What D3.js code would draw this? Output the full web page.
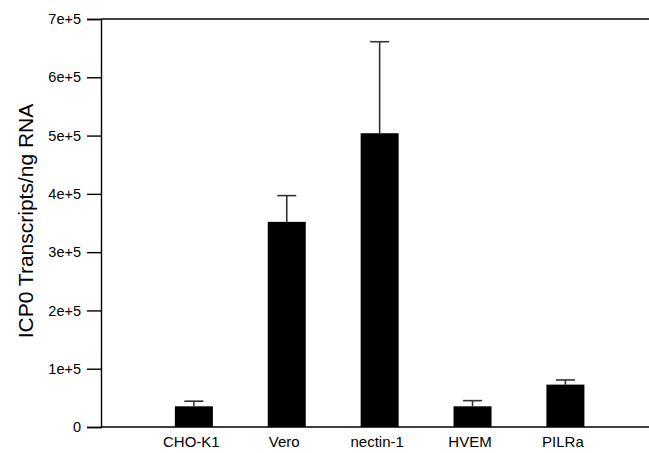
<!DOCTYPE html>
<html>
<head>
<meta charset="utf-8">
<script src="https://cdn.jsdelivr.net/npm/d3@7/dist/d3.min.js"></script>
<style>
  html, body { margin: 0; padding: 0; background: #fff; }
  svg { display: block; }
</style>
</head>
<body>
<svg id="chart" width="649" height="453"></svg>
<script>
const categories = ["CHO-K1", "Vero", "nectin-1", "HVEM", "PILRa"];
const values = [35500, 352000, 504000, 35500, 72700];
const errors = [8800, 45000, 157000, 9700, 8000];
const yTicks = [0, 100000, 200000, 300000, 400000, 500000, 600000, 700000];
const yTickLabels = ["0", "1e+5", "2e+5", "3e+5", "4e+5", "5e+5", "6e+5", "7e+5"];
const yTitle = "ICP0 Transcripts/ng RNA";

const svg = d3.select("#chart");
const font = "'Liberation Sans', Arial, sans-serif";

const x = d3.scaleLinear().domain([0, 5.9]).range([101, 649]);
const y = d3.scaleLinear().domain([0, 700000]).range([427, 19]);
const barW = 38;
const capW = 19;

// Bars
svg.append("g").selectAll("rect")
  .data(categories)
  .join("rect")
  .attr("x", (d, i) => x(i + 1) - barW / 2)
  .attr("y", (d, i) => y(values[i]))
  .attr("width", barW)
  .attr("height", (d, i) => y(0) - y(values[i]))
  .attr("fill", "#000");

// Error bars (upper only)
const eg = svg.append("g").attr("stroke", "#333").attr("stroke-width", 1.6);
categories.forEach((c, i) => {
  const cx = x(i + 1);
  eg.append("line")
    .attr("x1", cx).attr("x2", cx)
    .attr("y1", y(values[i])).attr("y2", y(values[i] + errors[i]));
  eg.append("line")
    .attr("x1", cx - capW / 2).attr("x2", cx + capW / 2)
    .attr("y1", y(values[i] + errors[i])).attr("y2", y(values[i] + errors[i]));
});

// Y axis
const yAxis = d3.axisLeft(y)
  .tickValues(yTicks)
  .tickFormat((d, i) => yTickLabels[i])
  .tickSize(14)
  .tickPadding(6);
const yg = svg.append("g").attr("transform", "translate(101,0)").call(yAxis);
yg.select(".domain").attr("stroke", "#000").attr("stroke-width", 1.4);
yg.selectAll(".tick line").attr("stroke", "#000").attr("stroke-width", 1.4);
yg.selectAll(".tick text")
  .attr("font-family", font).attr("font-size", 14.5).attr("fill", "#000");

// Baseline (x axis line) and top line
svg.append("line")
  .attr("x1", 101).attr("x2", 649)
  .attr("y1", y(0)).attr("y2", y(0))
  .attr("stroke", "#000").attr("stroke-width", 1.4);
svg.append("line")
  .attr("x1", 101).attr("x2", 649)
  .attr("y1", y(700000)).attr("y2", y(700000))
  .attr("stroke", "#000").attr("stroke-width", 1.4);

// X labels
const xAxis = d3.axisBottom(x)
  .tickValues(categories.map((d, i) => i + 1))
  .tickFormat((d) => categories[d - 1])
  .tickSize(0)
  .tickPadding(9);
const xg = svg.append("g").attr("transform", `translate(0,${y(0)})`).call(xAxis);
xg.select(".domain").remove();
xg.selectAll(".tick text")
  .attr("font-family", font).attr("font-size", 15).attr("fill", "#000")
  .attr("dx", -3);

// Y title
svg.append("text")
  .attr("transform", `translate(33,${(y(0) + y(700000)) / 2 - 2}) rotate(-90)`)
  .attr("text-anchor", "middle")
  .attr("font-family", font)
  .attr("font-size", 21)
  .attr("fill", "#000")
  .text(yTitle);
</script>
</body>
</html>
